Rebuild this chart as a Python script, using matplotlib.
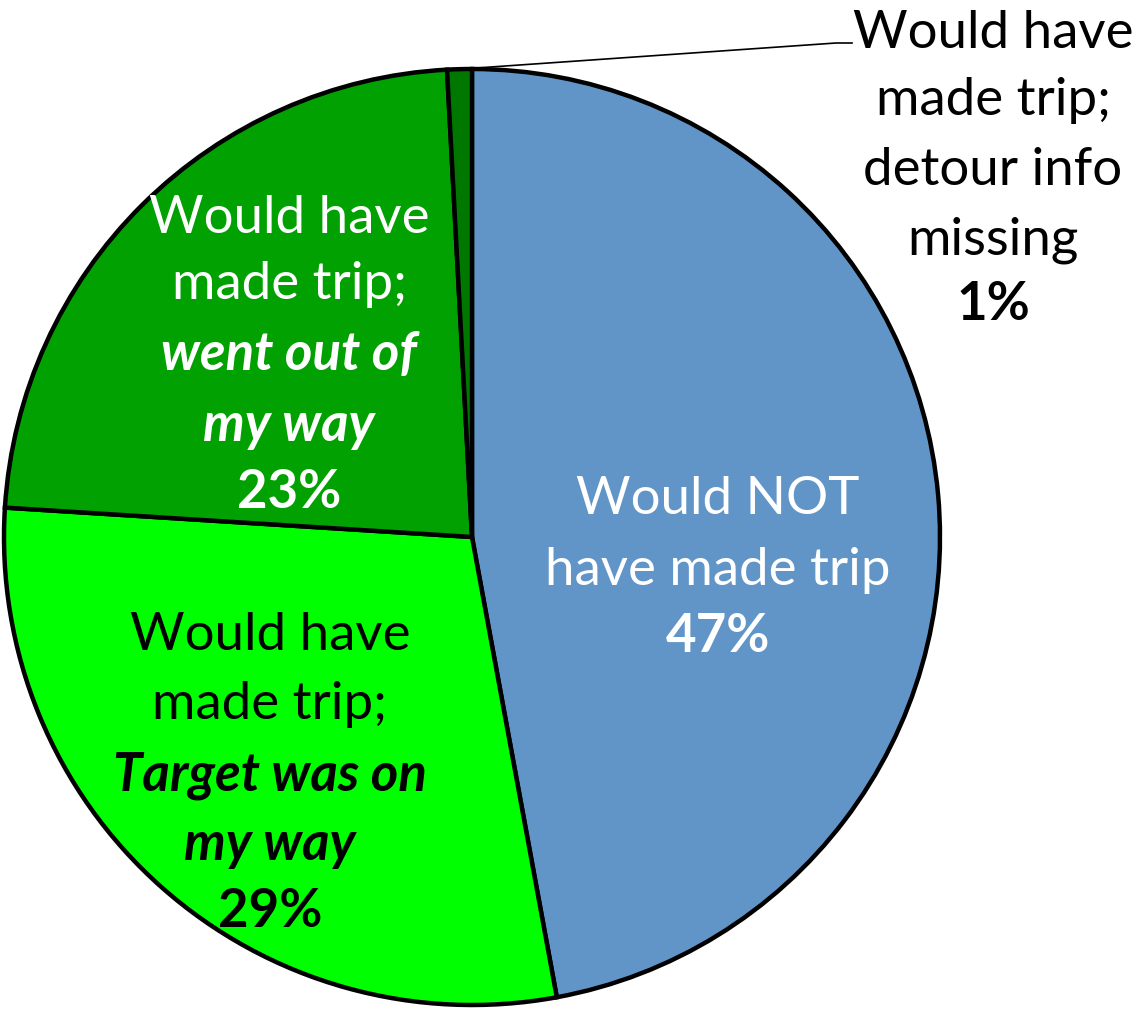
import matplotlib
matplotlib.use('Agg')
import matplotlib.pyplot as plt

# slice shares as drawn (clockwise from top)
shares = [47.1, 28.9, 23.15, 0.85]
colors = ['#6195C8', '#00FF00', '#00A100', '#007800']
pct_labels = ['47%', '29%', '23%', '1%']

W, H = 1141, 1012
fig = plt.figure(figsize=(W / 100, H / 100), dpi=100)
ax = fig.add_axes([0, 0, 1, 1])

cx, cy, r = 472, H - 538, 468
ax.pie(shares, colors=colors, startangle=90, counterclock=False,
       center=(cx, cy), radius=r,
       wedgeprops=dict(edgecolor='black', linewidth=3.2))
ax.set_xlim(0, W)
ax.set_ylim(0, H)
ax.set_aspect('equal')
ax.axis('off')

FONT = 'Lato'
FS = 38

def block(x, lines, color):
    # lines: (text, pixel y, weight, style)
    for txt, py, wt, st in lines:
        ax.text(x, H - py, txt, ha='center', va='center', fontsize=FS,
                family=FONT, weight=wt, style=st, color=color)

block(718, [('Would NOT', 500, 'normal', 'normal'),
            ('have made trip', 570, 'normal', 'normal'),
            (pct_labels[0], 637, 'bold', 'normal')], 'white')

block(270, [('Would have', 636, 'normal', 'normal'),
            ('made trip;', 705, 'normal', 'normal'),
            ('Target was on', 775, 'bold', 'italic'),
            ('my way', 845, 'bold', 'italic'),
            (pct_labels[1], 912, 'bold', 'normal')], 'black')

block(289, [('Would have', 218, 'normal', 'normal'),
            ('made trip;', 285, 'normal', 'normal'),
            ('went out of', 355, 'bold', 'italic'),
            ('my way', 425, 'bold', 'italic'),
            (pct_labels[2], 493, 'bold', 'normal')], 'white')

block(993, [('Would have', 33, 'normal', 'normal'),
            ('made trip;', 100, 'normal', 'normal'),
            ('detour info', 170, 'normal', 'normal'),
            ('missing', 240, 'normal', 'normal'),
            (pct_labels[3], 305, 'bold', 'normal')], 'black')

# leader line for the small slice
ax.plot([462, 836, 852], [H - 70, H - 44, H - 44], color='black', lw=1.2)

fig.savefig('out.png', dpi=100)
